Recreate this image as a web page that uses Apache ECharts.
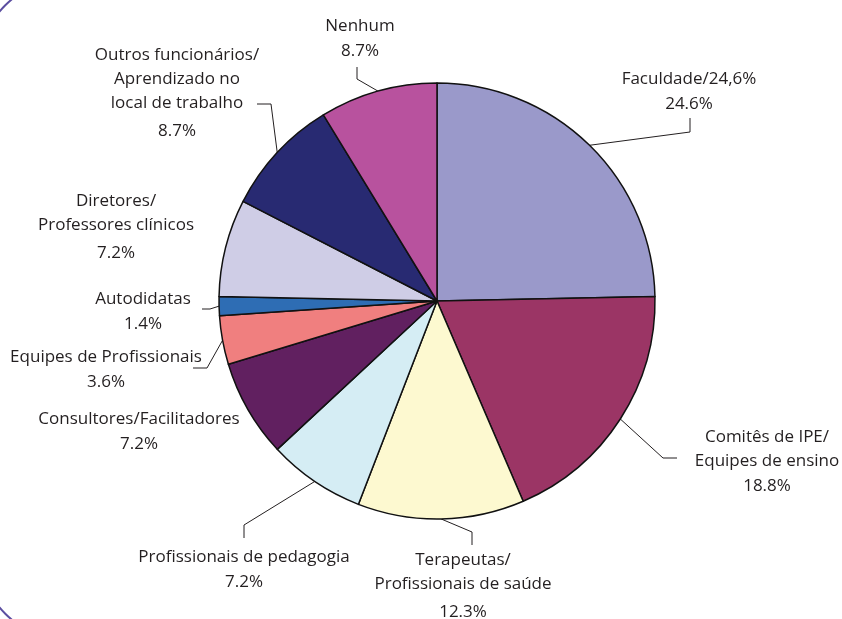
<!DOCTYPE html>
<html>
<head>
<meta charset="utf-8">
<script src="https://cdn.jsdelivr.net/npm/echarts@6/dist/echarts.min.js"></script>
<style>
    html, body { margin: 0; padding: 0; background: #ffffff; }
    #chart { width: 842px; height: 619px; }
</style>
</head>
<body>
<div id="chart"></div>
<script>
// data (clockwise from 12 o'clock)
const categories = [
    'Faculdade/24,6%',
    'Comitês de IPE/\nEquipes de ensino',
    'Terapeutas/\nProfissionais de saúde',
    'Profissionais de pedagogia',
    'Consultores/Facilitadores',
    'Equipes de Profissionais',
    'Autodidatas',
    'Diretores/\nProfessores clínicos',
    'Outros funcionários/\nAprendizado no\nlocal de trabalho',
    'Nenhum'
];
const values = [24.6, 18.8, 12.3, 7.2, 7.2, 3.6, 1.4, 7.2, 8.7, 8.7];
const colors = ['#9a99ca', '#9b3565', '#fdf9d0', '#d5edf4', '#612060', '#f07f7f', '#2e6db4', '#cfcde6', '#282a72', '#b8529e'];

// label placement (block centre) and leader line bends
const labelPos = [
    [689, 92], [767, 462], [463, 588], [244, 570], [139, 432],
    [106, 370], [143, 312], [116, 229], [177, 95], [360, 39]
];
const leaders = [
    [[690, 132], [690, 118]],
    [[663, 458], [677, 458]],
    [[472, 532], [472, 545]],
    [[244, 525], [244, 538]],
    null,
    [[207, 368], [193, 368]],
    [[210, 309], [202, 309]],
    null,
    [[271, 104], [257, 104]],
    [[357, 79], [357, 67]]
];
const wideGap = [2, 7, 8];

const cx = 437, cy = 301, radius = 218;
const textColor = '#231f20';
const font = 'Open Sans';
const fontSize = 17;

const total = values.reduce((a, b) => a + b, 0);
function anchor(i) {
    let before = 0;
    for (let k = 0; k < i; k++) before += values[k];
    const ang = (before + values[i] / 2) / total * Math.PI * 2;
    return [cx + radius * Math.sin(ang), cy - radius * Math.cos(ang)];
}

const chart = echarts.init(document.getElementById('chart'));

const pieData = categories.map((name, i) => ({
    name: name,
    value: values[i],
    itemStyle: { color: colors[i] },
    labelLine: { show: leaders[i] != null }
}));

chart.setOption({
    animation: false,
    graphic: [{
        type: 'rect',
        shape: { x: -24, y: -24, width: 1000, height: 667, r: 100 },
        style: { fill: 'none', stroke: '#5b4ea0', lineWidth: 2 },
        silent: true
    }],
    series: [{
        type: 'pie',
        center: [cx, cy],
        radius: radius,
        startAngle: 90,
        clockwise: true,
        avoidLabelOverlap: false,
        minShowLabelAngle: 0,
        itemStyle: { borderColor: '#111111', borderWidth: 1.5 },
        emphasis: { disabled: true },
        label: {
            show: true,
            position: 'outside',
            color: textColor,
            fontFamily: font,
            fontSize: fontSize,
            formatter: function (p) {
                const lines = categories[p.dataIndex].split('\n').map(s => '{n|' + s + '}');
                const tag = wideGap.indexOf(p.dataIndex) >= 0 ? 'g' : 'p';
                return lines.join('\n') + '\n{' + tag + '|' + p.value.toFixed(1) + '%}';
            },
            rich: {
                n: { fontFamily: font, fontSize: fontSize, color: textColor, lineHeight: 24 },
                p: { fontFamily: font, fontSize: fontSize, color: textColor, lineHeight: 25 },
                g: { fontFamily: font, fontSize: fontSize, color: textColor, lineHeight: 32 }
            }
        },
        labelLine: {
            show: true,
            lineStyle: { color: textColor, width: 1 }
        },
        labelLayout: function (params) {
            const i = params.dataIndex;
            const res = {
                x: labelPos[i][0],
                y: labelPos[i][1],
                align: 'center',
                verticalAlign: 'middle'
            };
            if (leaders[i]) {
                res.labelLinePoints = [anchor(i), leaders[i][0], leaders[i][1]];
            }
            return res;
        },
        data: pieData
    }]
});
</script>
</body>
</html>
